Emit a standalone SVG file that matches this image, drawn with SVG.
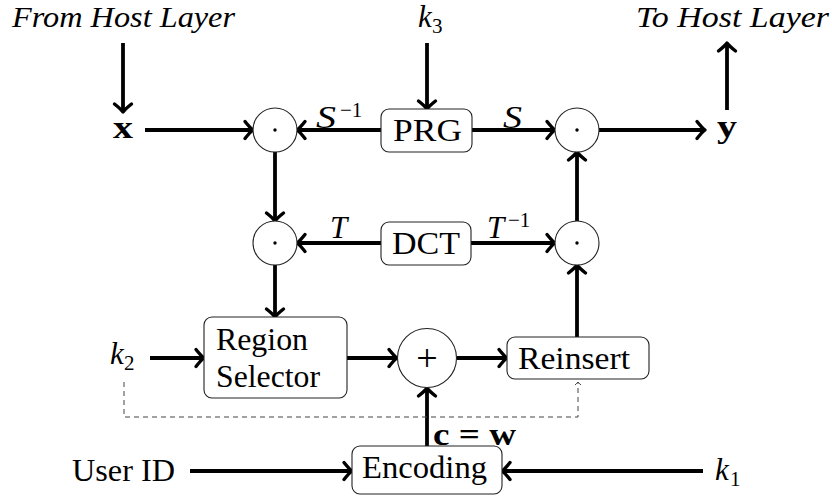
<svg xmlns="http://www.w3.org/2000/svg" width="832" height="497" viewBox="0 0 832 497">
  <style>
    text { font-family: "Liberation Serif", "Times New Roman", Tinos, serif; fill: #000; }
    .it { font-style: italic; }
    .bf { font-weight: bold; }
    .lbl { font-size: 31px; }
    .sub { font-size: 21px; }
    .wire { fill: none; stroke: #000; stroke-width: 3.8; marker-end: url(#head); }
    .dash { fill: none; stroke: #444; stroke-width: 1; stroke-dasharray: 5 4; marker-end: url(#thin); }
    .box { fill: #fff; stroke: #222; stroke-width: 1.1; }
    .op { fill: #fff; stroke: #222; stroke-width: 1.1; }
  </style>
  <defs>
    <marker id="head" viewBox="-12 -12 16 24" refX="-2" refY="0" markerWidth="16" markerHeight="24" markerUnits="userSpaceOnUse" orient="auto" overflow="visible">
      <path d="M -8,-8.5 Q -3,-2.2 0,0 Q -3,2.2 -8,8.5" fill="none" stroke="#000" stroke-width="3.4" stroke-linecap="round" stroke-linejoin="round"/>
    </marker>
    <marker id="thin" viewBox="-6 -6 8 12" refX="0" refY="0" markerWidth="8" markerHeight="12" markerUnits="userSpaceOnUse" orient="auto" overflow="visible">
      <path d="M -3,-3 Q -1,-0.8 0,0 Q -1,0.8 -3,3" fill="none" stroke="#444" stroke-width="1"/>
    </marker>
  </defs>

  <!-- connectors -->
  <g id="connectors">
    <path class="wire" d="M123,43 V110"/>
    <path class="wire" d="M145,130 H251"/>
    <path class="wire" d="M381,130 H299"/>
    <path class="wire" d="M427,43 V107"/>
    <path class="wire" d="M472,130 H553"/>
    <path class="wire" d="M599,130 H703"/>
    <path class="wire" d="M727,110 V45"/>
    <path class="wire" d="M275,152 V219"/>
    <path class="wire" d="M381,243 H299"/>
    <path class="wire" d="M471,243 H553"/>
    <path class="wire" d="M577,221 V154"/>
    <path class="wire" d="M275,265 V315"/>
    <path class="wire" d="M577,337 V267"/>
    <path class="wire" d="M150,358 H202"/>
    <path class="wire" d="M347,358 H395"/>
    <path class="wire" d="M457,358 H505"/>
    <path class="wire" d="M427,446 V390"/>
    <path class="wire" d="M190,471 H350"/>
    <path class="wire" d="M703,471 H504"/>
    <path class="dash" d="M124,382 V417 H578 V382"/>
  </g>

  <!-- edge labels -->
  <g id="edge-labels">
    <text class="it lbl" x="316" y="128" textLength="20" lengthAdjust="spacingAndGlyphs">S</text>
    <text class="sub" x="340" y="117">−1</text>
    <text class="it lbl" x="503" y="128" textLength="19" lengthAdjust="spacingAndGlyphs">S</text>
    <text class="it lbl" x="330" y="238">T</text>
    <text class="it lbl" x="487" y="238">T</text>
    <text class="sub" x="508" y="227">−1</text>
    <text class="bf lbl" x="433" y="445" textLength="83" lengthAdjust="spacingAndGlyphs">c = w</text>
  </g>

  <!-- inputs and outputs -->
  <g id="from-host">
    <text class="it" x="12" y="27" font-size="29" textLength="223" lengthAdjust="spacingAndGlyphs">From Host Layer</text>
  </g>
  <g id="to-host">
    <text class="it" x="636" y="27" font-size="29" textLength="193" lengthAdjust="spacingAndGlyphs">To Host Layer</text>
  </g>
  <g id="k3">
    <text class="it lbl" x="418" y="27">k</text>
    <text class="sub" x="432" y="33">3</text>
  </g>
  <g id="x-in">
    <text class="bf lbl" x="113" y="138" textLength="20" lengthAdjust="spacingAndGlyphs">x</text>
  </g>
  <g id="y-out">
    <text class="bf lbl" x="717" y="137" textLength="20" lengthAdjust="spacingAndGlyphs">y</text>
  </g>
  <g id="k2">
    <text class="it lbl" x="110" y="364">k</text>
    <text class="sub" x="124" y="370">2</text>
  </g>
  <g id="k1">
    <text class="it lbl" x="715" y="480">k</text>
    <text class="sub" x="730" y="486">1</text>
  </g>
  <g id="user-id">
    <text class="lbl" x="72" y="481" textLength="103" lengthAdjust="spacingAndGlyphs">User ID</text>
  </g>

  <!-- operator nodes -->
  <g id="mul-s-inv">
    <circle class="op" cx="275" cy="130" r="22"/>
    <circle cx="275" cy="130" r="1.7"/>
  </g>
  <g id="mul-s">
    <circle class="op" cx="577" cy="130" r="22"/>
    <circle cx="577" cy="130" r="1.7"/>
  </g>
  <g id="mul-t">
    <circle class="op" cx="275" cy="243" r="22"/>
    <circle cx="275" cy="243" r="1.7"/>
  </g>
  <g id="mul-t-inv">
    <circle class="op" cx="577" cy="243" r="22"/>
    <circle cx="577" cy="243" r="1.7"/>
  </g>
  <g id="adder">
    <circle class="op" cx="427" cy="358" r="29.5"/>
    <text x="427" y="371" font-size="38" text-anchor="middle">+</text>
  </g>

  <!-- block nodes -->
  <g id="prg">
    <rect class="box" x="381" y="109" width="91" height="43" rx="8"/>
    <text class="lbl" x="393" y="141" textLength="69" lengthAdjust="spacingAndGlyphs">PRG</text>
  </g>
  <g id="dct">
    <rect class="box" x="381" y="222" width="90" height="43" rx="8"/>
    <text class="lbl" x="392" y="254" textLength="68" lengthAdjust="spacingAndGlyphs">DCT</text>
  </g>
  <g id="region-selector">
    <rect class="box" x="204" y="317" width="143" height="81" rx="8"/>
    <text class="lbl" x="216" y="350" textLength="92" lengthAdjust="spacingAndGlyphs">Region</text>
    <text class="lbl" x="216" y="387" textLength="104" lengthAdjust="spacingAndGlyphs">Selector</text>
  </g>
  <g id="reinsert">
    <rect class="box" x="507" y="337" width="142" height="42" rx="8"/>
    <text class="lbl" x="518" y="369" textLength="112" lengthAdjust="spacingAndGlyphs">Reinsert</text>
  </g>
  <g id="encoding">
    <rect class="box" x="352" y="446" width="150" height="48" rx="8"/>
    <text class="lbl" x="362" y="478" textLength="125" lengthAdjust="spacingAndGlyphs">Encoding</text>
  </g>
</svg>
